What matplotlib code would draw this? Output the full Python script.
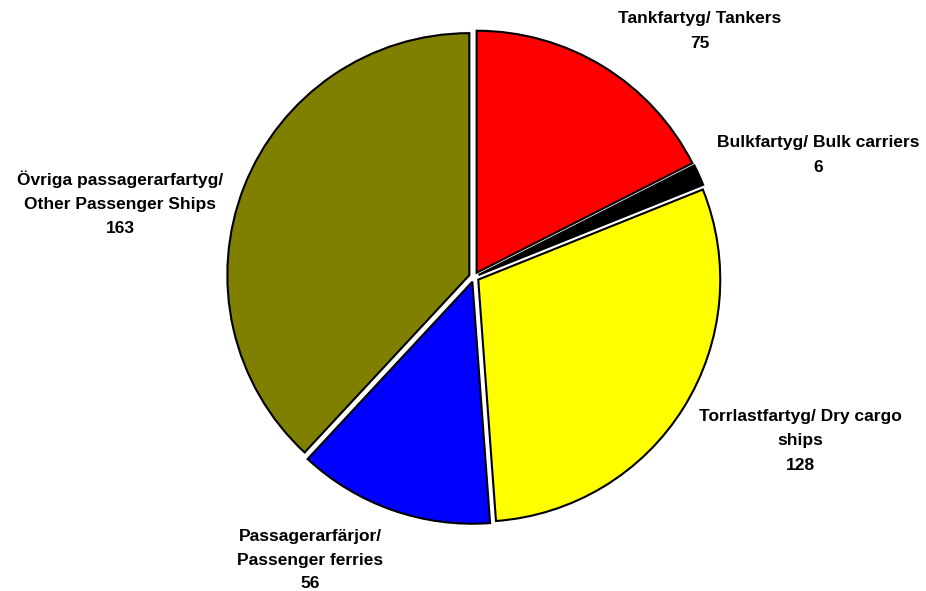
import matplotlib.pyplot as plt

# ship categories (Swedish / English) and counts
labels = ['Tankfartyg/ Tankers', 'Bulkfartyg/ Bulk carriers',
          'Torrlastfartyg/ Dry cargo\nships', 'Passagerarfärjor/\nPassenger ferries',
          'Övriga passagerarfartyg/\nOther Passenger Ships']
counts = [75, 6, 128, 56, 163]
colors = ['#ff0000', '#000000', '#ffff00', '#0000ff', '#808000']

# label centres in pixel coords of the figure (x, y from bottom)
label_pos = [(700, 560), (818, 436), (800, 150), (310, 31), (120, 388)]

W, H = 926, 591
fig = plt.figure(figsize=(W / 100, H / 100), dpi=100)
ax = fig.add_axes([0, 0, 1, 1])

# explode is in data units here (pixels)
ax.pie(counts, colors=colors, startangle=90, counterclock=False,
       center=(474, 314), radius=242, explode=[5] * len(counts),
       wedgeprops=dict(edgecolor='black', linewidth=1.5), frame=True)
ax.set_xlim(0, W)
ax.set_ylim(0, H)
ax.set_aspect('equal')
ax.axis('off')

for lab, n, (x, y) in zip(labels, counts, label_pos):
    ax.text(x, y, f'{lab}\n{n}', ha='center', va='center', fontsize=12.5,
            fontweight='bold', family='Liberation Sans', linespacing=1.75)

fig.savefig('out.png', dpi=100)
